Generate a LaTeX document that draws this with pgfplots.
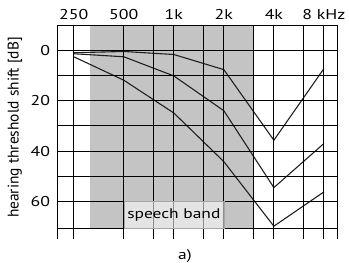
\documentclass[border=0pt]{standalone}
\usepackage{fontspec}
\setmainfont[FakeStretch=1.25]{PT Sans}
\newfontfamily\labelfont{PT Sans}
\usepackage{pgfplots}
\pgfplotsset{compat=1.18}
\definecolor{bandgray}{RGB}{196,196,196}
\definecolor{curve}{RGB}{35,31,32}
\begin{document}
\begin{tikzpicture}
\begin{axis}[
  at={(57.3bp,23.7bp)}, anchor=south west,
  scale only axis, width=280.5bp, height=214.3bp,
  xmode=log, log basis x=2,
  xmin=199, xmax=9700,
  ymin=-10, ymax=75, y dir=reverse,
  axis line style={draw=none},
  axis on top=true,
  clip=false,
  major tick length=0pt,
  xtick={250,500,1000,2000,4000,8000},
  xticklabels={250,500,1k,2k,4k,8 kHz},
  extra x ticks={199,750,1500,3000,6000,9700},
  extra x tick labels={},
  extra x tick style={grid=major},
  xticklabel pos=top,
  ytick={0,20,40,60},
  extra y ticks={-10,10,30,50,70.7},
  extra y tick labels={},
  extra y tick style={grid=major},
  grid=major,
  major grid style={black, line width=1pt},
  /pgf/number format/assume math mode=true,
  ticklabel style={font=\fontsize{14.3}{16}\selectfont},
  xticklabel style={inner sep=0pt, anchor=base, yshift=6bp},
  yticklabel style={inner sep=0pt, anchor=east, xshift=-7bp},
]
\addplot[fill=bandgray, draw=none] coordinates {(315,-10) (3000,-10) (3000,70.7) (315,70.7)};
\addplot[curve, line width=1.1pt] coordinates {(250,1) (500,0.5) (1000,1.7) (2000,7.7) (4000,35.7) (8000,7.3)};
\addplot[curve, line width=1.1pt] coordinates {(250,1.4) (500,2.6) (1000,10.2) (2000,24) (4000,54.5) (8000,37)};
\addplot[curve, line width=1.1pt] coordinates {(250,2.6) (500,11.9) (1000,24.9) (2000,44.2) (4000,69.8) (8000,56.2)};
\coordinate (sbA) at (axis cs:500,60);
\coordinate (sbB) at (axis cs:2000,70.7);
\coordinate (sbC) at (axis cs:1000,65.35);
\end{axis}
\fill[white, fill opacity=0.55] (sbA) rectangle (sbB);
\draw[black!35, line width=0.6pt] (sbA) rectangle (sbB);
\node[font=\fontsize{14}{16}\selectfont] at (sbC) {speech band};
\node[rotate=90, font=\labelfont\fontsize{15.5}{17}\selectfont] at (15bp,135.5bp) {hearing threshold shift [dB]};
\node[anchor=base, font=\fontsize{14}{16}\selectfont] at (185bp,4bp) {a)};
\pgfresetboundingbox
\useasboundingbox (0,0) rectangle (349bp,263bp);
\end{tikzpicture}
\end{document}
